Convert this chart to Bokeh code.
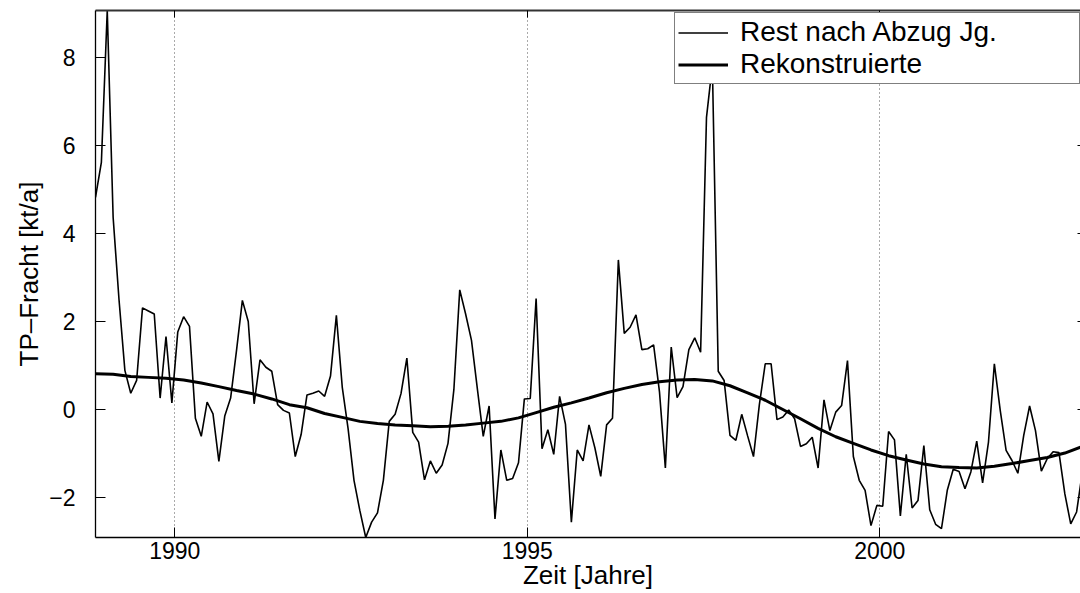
from bokeh.plotting import figure
from bokeh.models import FixedTicker, LinearAxis, Range1d
from bokeh.embed import file_html
from bokeh.resources import INLINE

# ---- data (monthly residual series, start Nov 1988) ----
t0 = 1988.875
rest = [4.82, 5.62, 9.07, 4.37, 2.5, 0.89, 0.37, 0.66, 2.31, 2.24,
        2.17, 0.26, 1.66, 0.15, 1.76, 2.11, 1.89, -0.20, -0.61, 0.17,
        -0.10, -1.18, -0.15, 0.26, 1.34, 2.48, 2.00, 0.13, 1.13, 0.96,
        0.87, 0.11, -0.02, -0.08, -1.07, -0.57, 0.33, 0.37, 0.42, 0.30,
        0.76, 2.14, 0.51, -0.44, -1.61, -2.30, -2.91, -2.56, -2.35, -1.61,
        -0.27, -0.11, 0.36, 1.17, -0.52, -0.74, -1.60, -1.17, -1.45, -1.26,
        -0.77, 0.45, 2.72, 2.17, 1.57, 0.47, -0.61, 0.08, -2.49, -0.92,
        -1.61, -1.57, -1.21, 0.24, 0.25, 2.52, -0.89, -0.46, -1.02, 0.30,
        -0.34, -2.56, -0.92, -1.17, -0.35, -0.87, -1.52, -0.35, -0.20, 3.40,
        1.73, 1.87, 2.15, 1.36, 1.38, 1.47, 0.40, -1.33, 1.42, 0.27,
        0.52, 1.36, 1.63, 1.30, 6.64, 7.83, 0.87, 0.66, -0.59, -0.70,
        -0.11, -0.60, -1.07, 0.11, 1.04, 1.04, -0.23, -0.17, -0.01, -0.21,
        -0.84, -0.78, -0.63, -1.33, 0.22, -0.48, -0.06, 0.09, 1.11, -1.07,
        -1.61, -1.84, -2.64, -2.18, -2.20, -0.50, -0.69, -2.42, -1.02, -2.24,
        -2.07, -0.82, -2.28, -2.61, -2.71, -1.83, -1.36, -1.41, -1.80, -1.42,
        -0.72, -1.67, -0.74, 1.04, -0.02, -0.93, -1.16, -1.45, -0.59, 0.08,
        -0.48, -1.40, -1.12, -0.96, -0.98, -1.92, -2.60, -2.33, -1.40]
t_rest = [t0 + i / 12.0 for i in range(len(rest))]

# reconstructed (smooth) component, quarterly values
rekon = [0.81, 0.80, 0.75, 0.73, 0.71, 0.67, 0.60, 0.52, 0.43, 0.35,
         0.24, 0.11, 0.04, -0.09, -0.18, -0.27, -0.32, -0.35, -0.37, -0.39,
         -0.38, -0.35, -0.31, -0.27, -0.19, -0.07, 0.05, 0.15, 0.26, 0.38,
         0.48, 0.57, 0.63, 0.67, 0.68, 0.65, 0.54, 0.38, 0.21, 0.00,
         -0.21, -0.43, -0.62, -0.77, -0.92, -1.05, -1.15, -1.24, -1.30, -1.32,
         -1.33, -1.29, -1.23, -1.16, -1.09, -0.99, -0.84]
t_rekon = [t0 + q * 0.25 for q in range(len(rekon))]

x_ticks = [1990, 1995, 2000]
y_ticks = [-2, 0, 2, 4, 6, 8]
y_labels = {-2: "\u22122", 0: "0", 2: "2", 4: "4", 6: "6", 8: "8"}

FONT = "Liberation Sans"

p = figure(width=1080, height=593, output_backend="svg", toolbar_location=None,
           x_range=Range1d(1988.875, 2002.847), y_range=Range1d(-2.91, 9.07),
           min_border_left=95, min_border_right=0, min_border_top=10,
           min_border_bottom=56, background_fill_color="white",
           border_fill_color="white")
p.outline_line_color = None

p.line(t_rest, rest, line_color="black", line_width=1.6,
       legend_label="Rest nach Abzug Jg.")
p.line(t_rekon, rekon, line_color="black", line_width=3,
       legend_label="Rekonstruierte")

# axes
for ax in p.xaxis:
    ax.ticker = FixedTicker(ticks=x_ticks)
    ax.axis_label = "Zeit [Jahre]"
for ax in p.yaxis:
    ax.ticker = FixedTicker(ticks=y_ticks)
    ax.major_label_overrides = y_labels
    ax.axis_label = "TP\u2013Fracht [kt/a]"

for ax in list(p.xaxis) + list(p.yaxis):
    ax.major_tick_in = 10
    ax.major_tick_out = 0
    ax.minor_tick_line_color = None
    ax.axis_line_color = "black"
    ax.axis_line_width = 1.3
    ax.major_tick_line_color = "black"
    ax.major_label_text_font = FONT
    ax.major_label_text_font_size = "23px"
    ax.major_label_text_color = "black"
    ax.axis_label_text_font = FONT
    ax.axis_label_text_font_size = "26px"
    ax.axis_label_text_font_style = "normal"
    ax.axis_label_text_color = "black"

p.xaxis.major_label_standoff = 4
p.xaxis.axis_label_standoff = -2
p.yaxis.major_label_standoff = 20
p.yaxis.axis_label_standoff = 2

# top and right box axes (ticks only, no labels drawn)
top = LinearAxis(ticker=FixedTicker(ticks=x_ticks), major_label_text_font_size="1px",
                 major_label_text_color=None,
                 major_label_standoff=0, major_tick_in=7, major_tick_out=0,
                 minor_tick_line_color=None, axis_line_color="#333333",
                 axis_line_width=2)
right = LinearAxis(ticker=FixedTicker(ticks=y_ticks), major_label_text_font_size="1px",
                   major_label_text_color=None,
                   major_label_standoff=0, major_tick_in=3, major_tick_out=0,
                   minor_tick_line_color=None, axis_line_color=None)
p.add_layout(top, "above")
p.add_layout(right, "right")

# grid
p.xgrid.ticker = FixedTicker(ticks=x_ticks)
p.xgrid.grid_line_color = "#555555"
p.xgrid.grid_line_dash = "1 3"
p.xgrid.grid_line_width = 1
p.ygrid.visible = False

# legend
lg = p.legend[0]
lg.location = (579, 453)
lg.label_text_font = FONT
lg.label_text_font_size = "28px"
lg.label_text_color = "black"
lg.border_line_color = "black"
lg.border_line_width = 1
lg.background_fill_color = "white"
lg.background_fill_alpha = 1.0
lg.padding = 3
lg.spacing = 0
lg.margin = 0
lg.glyph_width = 50
lg.glyph_height = 31
lg.label_height = 31
lg.label_width = 336
lg.label_standoff = 12

open("out.html", "w").write(file_html(p, INLINE))
